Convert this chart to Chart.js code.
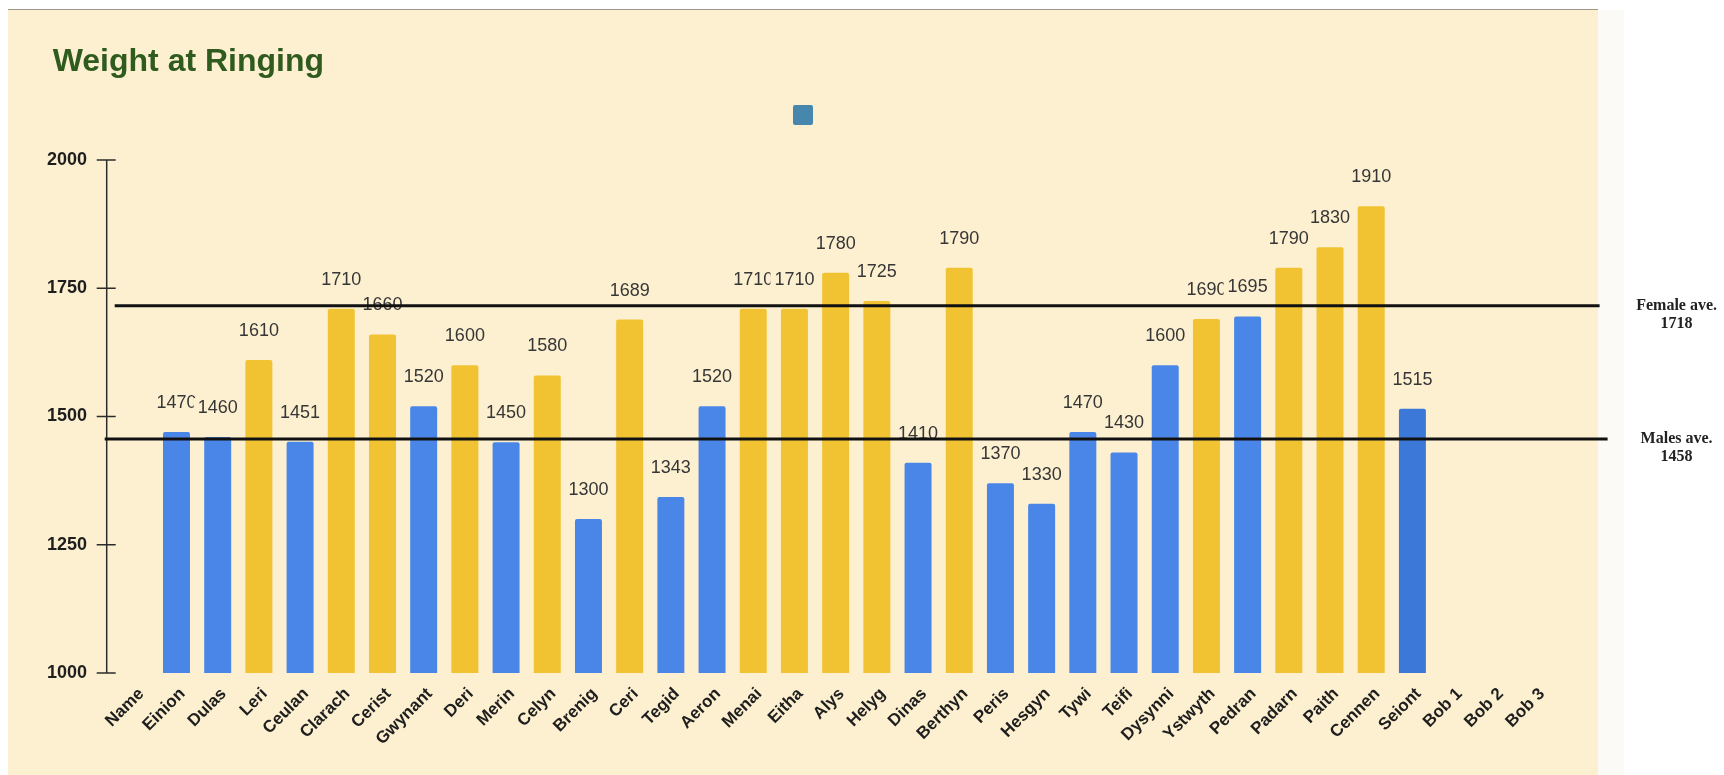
<!DOCTYPE html>
<html>
<head>
<meta charset="utf-8">
<script src="https://cdn.jsdelivr.net/npm/chart.js@4.4.1/dist/chart.umd.min.js"></script>
<style>
html,body{margin:0;padding:0;background:#fff;width:1724px;height:775px;overflow:hidden}
#frame{position:absolute;left:8px;top:9px;width:1590px;height:766px;background:#fdf0d1;border-top:1px solid #a0958a}
#side{position:absolute;left:1598px;top:10px;width:26px;height:765px;background:#fcfaf7}
#chart{position:absolute;left:0;top:0}
</style>
</head>
<body>
<div id="frame"></div>
<div id="side"></div>
<canvas id="chart" width="1724" height="775"></canvas>
<script>
// data
const names=["Name","Einion","Dulas","Leri","Ceulan","Clarach","Cerist","Gwynant","Deri","Merin","Celyn","Brenig","Ceri","Tegid","Aeron","Menai","Eitha","Alys","Helyg","Dinas","Berthyn","Peris","Hesgyn","Tywi","Teifi","Dysynni","Ystwyth","Pedran","Padarn","Paith","Cennen","Seiont","Bob 1","Bob 2","Bob 3"]
const weights=[null,1470,1460,1610,1451,1710,1660,1520,1600,1450,1580,1300,1689,1343,1520,1710,1710,1780,1725,1410,1790,1370,1330,1470,1430,1600,1690,1695,1790,1830,1910,1515,null,null,null]
const sexes=["","M","M","F","M","F","F","M","F","M","F","M","F","M","M","F","F","F","F","M","F","M","M","M","M","M","F","M","F","F","F","S","","",""]
const aveLabels=["Female ave.","Males ave."]
const aveValues=[1718,1458]
const yTicks=[1000,1250,1500,1750,2000]

const sexColor={M:"#4a86e8",F:"#f1c232",S:"#3c78d8","":"#4a86e8"}
const bg="#fdf0d1"
const font="'Liberation Sans', Arial, sans-serif"

const axisLine={
id:"axisLine",
afterDraw(chart){
const y=chart.scales.y
const ctx=chart.ctx
const x=chart.chartArea.left-8
ctx.save()
ctx.strokeStyle="#2b2b2b"
ctx.lineWidth=1.5
ctx.beginPath()
ctx.moveTo(x,y.getPixelForValue(yTicks[0]))
ctx.lineTo(x,y.getPixelForValue(yTicks[yTicks.length-1]))
y.ticks.forEach(t=>{
const py=y.getPixelForValue(t.value)
ctx.moveTo(x-10,py)
ctx.lineTo(x+9,py)
})
ctx.stroke()
ctx.restore()
}
}

const valueLabels={
id:"valueLabels",
afterDatasetsDraw(chart){
const ctx=chart.ctx
const meta=chart.getDatasetMeta(0)
ctx.save()
ctx.font="18px "+font
ctx.textAlign="center"
ctx.textBaseline="middle"
meta.data.forEach((bar,i)=>{
const v=weights[i]
if(v==null) return
const txt=String(v)
const w=ctx.measureText(txt).width
const cy=bar.y-29
ctx.fillStyle=bg
ctx.fillRect(bar.x-w/2-4,cy-10,w+8,20)
ctx.fillStyle="#363636"
ctx.fillText(txt,bar.x,cy)
})
ctx.restore()
}
}

const aveLines={
id:"aveLines",
afterDraw(chart){
const ctx=chart.ctx
const y=chart.scales.y
const a=chart.chartArea
const starts=[a.left,a.left-10]
const ends=[a.right+43,a.right+51]
ctx.save()
aveValues.forEach((v,i)=>{
const py=y.getPixelForValue(v)+1
ctx.strokeStyle="#111"
ctx.lineWidth=3
ctx.beginPath()
ctx.moveTo(starts[i],py)
ctx.lineTo(ends[i],py)
ctx.stroke()
ctx.fillStyle="#222"
ctx.font="bold 16px 'Liberation Serif', 'Times New Roman', serif"
ctx.textAlign="center"
ctx.textBaseline="middle"
ctx.fillText(aveLabels[i],a.right+120,py)
ctx.fillText(String(v),a.right+120,py+18)
})
ctx.restore()
}
}

// extra room under the legend, title indented past the tick labels
const layoutTweaks={
id:"layoutTweaks",
beforeInit(chart){
const fit=chart.legend.fit
chart.legend.fit=function(){
fit.call(this)
this.height+=25
}
},
afterLayout(chart){
chart.titleBlock.left=chart.chartArea.left-62
}
}

new Chart(document.getElementById("chart"),{
type:"bar",
data:{
labels:names,
datasets:[{
label:"",
data:weights,
backgroundColor:sexes.map(s=>sexColor[s]),
borderRadius:2,
barPercentage:0.655,
categoryPercentage:1
}]
},
options:{
responsive:false,
animation:false,
layout:{padding:{top:13,left:33,right:147.5,bottom:0}},
plugins:{
title:{
display:true,
text:"Weight at Ringing",
align:"start",
color:"#305b1f",
font:{family:font,size:32,weight:"bold"},
padding:{top:30,bottom:0}
},
legend:{
display:true,
onClick:null,
labels:{
boxWidth:20,
boxHeight:20,
padding:23.6,
font:{size:7},
generateLabels:()=>[{text:"",fillStyle:"#4787ad",strokeStyle:"#4787ad",lineWidth:0,hidden:false,datasetIndex:0,borderRadius:2}],
useBorderRadius:true
}
},
tooltip:{enabled:false}
},
scales:{
x:{
offset:true,
grid:{display:false},
border:{display:false},
ticks:{
autoSkip:false,
minRotation:45,
maxRotation:45,
padding:3,
labelOffset:6,
color:"#1e1e1e",
font:{family:font,size:17,weight:"bold"}
},
afterFit(s){s.height=102}
},
y:{
min:yTicks[0],
max:yTicks[yTicks.length-1],
grid:{display:false},
border:{display:false},
ticks:{
stepSize:250,
padding:19.7,
color:"#1e1e1e",
font:{family:font,size:18,weight:"bold"},
callback:v=>String(v)
},
afterFit(s){s.width=81.7}
},
y2:{
position:"right",
grid:{display:false},
border:{display:false},
ticks:{display:false},
afterFit(s){s.width=19.9}
}
}
},
plugins:[layoutTweaks,axisLine,valueLabels,aveLines]
})
</script>
</body>
</html>
